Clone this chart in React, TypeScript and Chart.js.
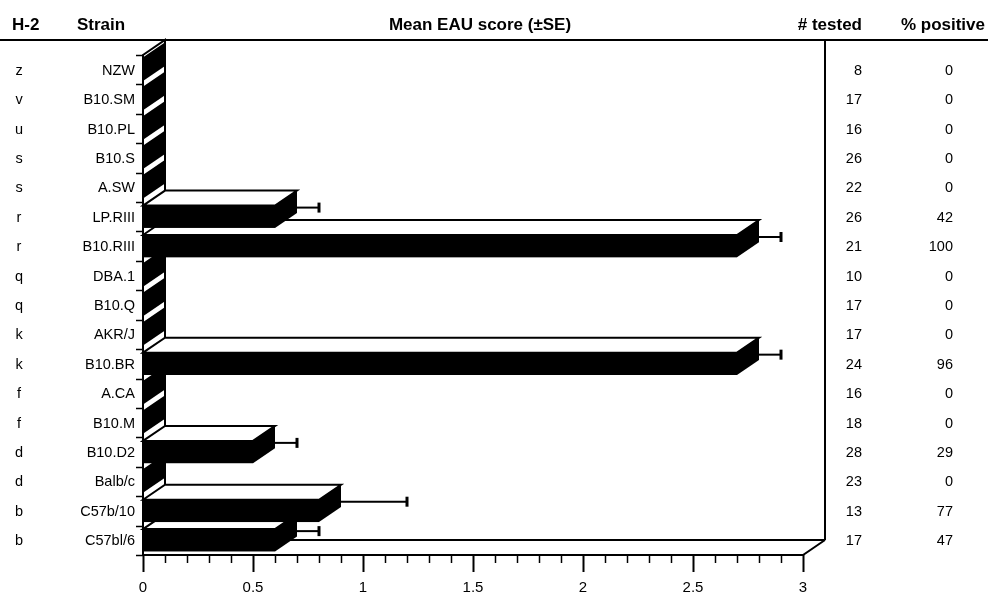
import React, { useEffect, useRef } from 'react';
import { Chart, registerables } from 'chart.js';

Chart.register(...registerables);

// ---------- data ----------
const h2Haplotypes = ['z', 'v', 'u', 's', 's', 'r', 'r', 'q', 'q', 'k', 'k', 'f', 'f', 'd', 'd', 'b', 'b'];
const strains = ['NZW', 'B10.SM', 'B10.PL', 'B10.S', 'A.SW', 'LP.RIII', 'B10.RIII', 'DBA.1', 'B10.Q', 'AKR/J', 'B10.BR', 'A.CA', 'B10.M', 'B10.D2', 'Balb/c', 'C57b/10', 'C57bl/6'];
const meanScores = [0, 0, 0, 0, 0, 0.6, 2.7, 0, 0, 0, 2.7, 0, 0, 0.5, 0, 0.8, 0.6];
const stdErrors = [0, 0, 0, 0, 0, 0.1, 0.1, 0, 0, 0, 0.1, 0, 0, 0.1, 0, 0.3, 0.1];
const numTested = [8, 17, 16, 26, 22, 26, 21, 10, 17, 17, 24, 16, 18, 28, 23, 13, 17];
const pctPositive = [0, 0, 0, 0, 0, 42, 100, 0, 0, 0, 96, 0, 0, 29, 0, 77, 47];
const xTickValues = [0, 0.5, 1, 1.5, 2, 2.5, 3];
const xTickLabels = ['0', '0.5', '1', '1.5', '2', '2.5', '3'];
const headers = { h2: 'H-2', strain: 'Strain', mean: 'Mean EAU score (±SE)', tested: '# tested', positive: '% positive' };

// ---------- style ----------
const DX = 22;
const DY = 15;
const FONT = '"Liberation Sans", Arial, Helvetica, sans-serif';

const threeDPlugin = {
  id: 'threeD',
  beforeDraw(chart: any) {
    const ctx = chart.ctx;
    ctx.save();
    ctx.fillStyle = '#fff';
    ctx.fillRect(0, 0, chart.width, chart.height);
    ctx.restore();
  },
  beforeDatasetsDraw(chart: any) {
    const ctx = chart.ctx;
    const xs = chart.scales.x;
    const { left, right, top, bottom } = chart.chartArea;
    ctx.save();
    ctx.strokeStyle = '#000';
    ctx.lineWidth = 2;
    ctx.lineCap = 'butt';
    // header rule / back wall top edge
    ctx.beginPath();
    ctx.moveTo(0, top - DY);
    ctx.lineTo(chart.width, top - DY);
    ctx.stroke();
    // back wall right edge
    ctx.beginPath();
    ctx.moveTo(right + DX, top - DY);
    ctx.lineTo(right + DX, bottom - DY);
    ctx.stroke();
    // back wall bottom edge
    ctx.beginPath();
    ctx.moveTo(left + DX, bottom - DY);
    ctx.lineTo(right + DX, bottom - DY);
    ctx.stroke();
    // floor front edge + right diagonal
    ctx.beginPath();
    ctx.moveTo(left, bottom);
    ctx.lineTo(right, bottom);
    ctx.lineTo(right + DX, bottom - DY);
    ctx.stroke();
    // left wall
    ctx.beginPath();
    ctx.moveTo(left, bottom);
    ctx.lineTo(left, top);
    ctx.lineTo(left + DX, top - DY);
    ctx.lineTo(left + DX, bottom - DY);
    ctx.stroke();
    // category ticks at band boundaries
    const n = strains.length;
    const band = (bottom - top) / n;
    ctx.lineWidth = 1.5;
    for (let k = 0; k <= n; k++) {
      const y = Math.round(top + k * band) + 0.5;
      ctx.beginPath();
      ctx.moveTo(left - 7, y);
      ctx.lineTo(left, y);
      ctx.stroke();
    }
    // x ticks: minor every 0.1, major every 0.5
    for (let i = 0; i <= 30; i++) {
      const v = i / 10;
      const x = Math.round(xs.getPixelForValue(v)) + 0.5;
      const major = i % 5 === 0;
      ctx.lineWidth = major ? 2 : 1.5;
      ctx.beginPath();
      ctx.moveTo(x, bottom);
      ctx.lineTo(x, bottom + (major ? 17 : 8));
      ctx.stroke();
    }
    ctx.fillStyle = '#000';
    ctx.font = `15px ${FONT}`;
    ctx.textAlign = 'center';
    ctx.textBaseline = 'middle';
    xTickValues.forEach((v, i) => {
      ctx.fillText(xTickLabels[i], xs.getPixelForValue(v), bottom + 33);
    });
    ctx.restore();
  },
  afterDatasetsDraw(chart: any) {
    const ctx = chart.ctx;
    const xs = chart.scales.x;
    const ys = chart.scales.y;
    const meta = chart.getDatasetMeta(0);
    const { left } = chart.chartArea;
    ctx.save();
    ctx.lineJoin = 'miter';
    for (let i = meta.data.length - 1; i >= 0; i--) {
      const el: any = meta.data[i];
      const props = el.getProps(['x', 'y', 'base', 'height'], true);
      const x0 = props.base;
      const x1 = props.x;
      const yT = props.y - props.height / 2;
      const yB = props.y + props.height / 2;
      // top face
      ctx.beginPath();
      ctx.moveTo(x0, yT);
      ctx.lineTo(x0 + DX, yT - DY);
      ctx.lineTo(x1 + DX, yT - DY);
      ctx.lineTo(x1, yT);
      ctx.closePath();
      ctx.fillStyle = '#fff';
      ctx.fill();
      ctx.strokeStyle = '#000';
      ctx.lineWidth = 2;
      ctx.stroke();
      // end face
      ctx.beginPath();
      ctx.moveTo(x1, yT);
      ctx.lineTo(x1 + DX, yT - DY);
      ctx.lineTo(x1 + DX, yB - DY);
      ctx.lineTo(x1, yB);
      ctx.closePath();
      ctx.fillStyle = '#000';
      ctx.fill();
      // front face
      ctx.fillRect(x0, yT, x1 - x0, yB - yT);
      // error bar
      if (stdErrors[i] > 0) {
        const xe = xs.getPixelForValue(meanScores[i] + stdErrors[i]) + DX;
        const ye = yT + 2;
        ctx.lineWidth = 2;
        ctx.beginPath();
        ctx.moveTo(x1 + DX, ye);
        ctx.lineTo(xe, ye);
        ctx.stroke();
        ctx.lineWidth = 3;
        ctx.beginPath();
        ctx.moveTo(xe, ye - 5);
        ctx.lineTo(xe, ye + 5);
        ctx.stroke();
      }
    }
    // labels
    ctx.fillStyle = '#000';
    ctx.textBaseline = 'middle';
    ctx.font = `14.5px ${FONT}`;
    strains.forEach((s, i) => {
      const y = ys.getPixelForValue(i) + 1;
      ctx.textAlign = 'center';
      ctx.fillText(h2Haplotypes[i], 19, y);
      ctx.textAlign = 'right';
      ctx.fillText(s, left - 8, y);
      ctx.fillText(String(numTested[i]), 862, y);
      ctx.fillText(String(pctPositive[i]), 953, y);
    });
    // headers
    ctx.font = `bold 17px ${FONT}`;
    ctx.textBaseline = 'alphabetic';
    ctx.textAlign = 'left';
    ctx.fillText(headers.h2, 12, 30);
    ctx.fillText(headers.strain, 77, 30);
    ctx.textAlign = 'center';
    ctx.fillText(headers.mean, 480, 30);
    ctx.textAlign = 'right';
    ctx.fillText(headers.tested, 862, 30);
    ctx.fillText(headers.positive, 985, 30);
    ctx.restore();
  },
};

export default function App() {
  const ref = useRef<HTMLCanvasElement | null>(null);
  useEffect(() => {
    if (!ref.current) return;
    const chart = new Chart(ref.current, {
      type: 'bar',
      data: {
        labels: strains,
        datasets: [
          {
            label: 'Mean EAU score',
            data: meanScores,
            backgroundColor: 'rgba(0,0,0,0)',
            borderWidth: 0,
            barPercentage: 0.76,
            categoryPercentage: 1,
          },
        ],
      },
      options: {
        indexAxis: 'y',
        responsive: false,
        animation: false,
        events: [],
        layout: { padding: { left: 143, right: 185, top: 55, bottom: 39 } },
        plugins: { legend: { display: false }, tooltip: { enabled: false } },
        scales: {
          x: { type: 'linear', min: 0, max: 3, display: false },
          y: { type: 'category', display: false },
        },
      },
      plugins: [threeDPlugin],
    });
    return () => chart.destroy();
  }, []);
  return (
    <div style={{ position: 'fixed', left: 0, top: 0, width: 988, height: 594, background: '#fff' }}>
      <canvas ref={ref} width={988} height={594} style={{ display: 'block' }} />
    </div>
  );
}
